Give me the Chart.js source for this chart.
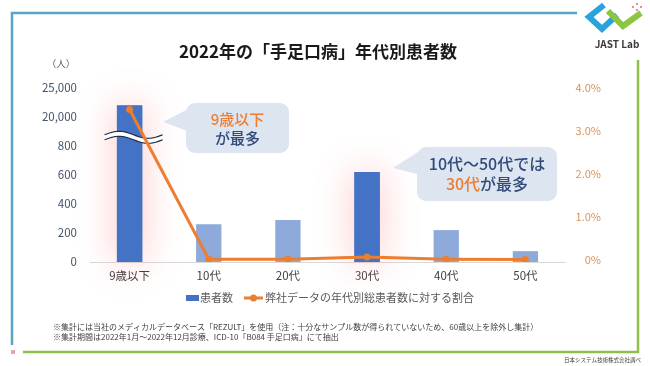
<!DOCTYPE html>
<html lang="ja">
<head>
<meta charset="utf-8">
<script src="https://cdn.jsdelivr.net/npm/chart.js@4.4.1/dist/chart.umd.min.js"></script>
<style>
  html, body { margin: 0; padding: 0; background: #fff; }
  #wrap { width: 650px; height: 366px; }
</style>
</head>
<body>
<div id="wrap"><canvas id="chart" width="650" height="366"></canvas></div>
<script>
(function () {
  "use strict";

  const FONT = '"Noto Sans CJK JP", "Noto Sans", sans-serif';
  const NAVY = "#2f4b7c";
  const ORANGE = "#ed7d31";
  const BAR_STRONG = "#4472c4";
  const BAR_LIGHT = "#8eaadb";
  const BUBBLE_BG = "#dde5f0";

  const TITLE = "2022年の「手足口病」年代別患者数";
  const AGE_GROUPS = ["9歳以下", "10代", "20代", "30代", "40代", "50代"];
  const PATIENTS = [22000, 260, 290, 620, 220, 75];
  const SHARE_PCT = [3.5, 0.02, 0.02, 0.07, 0.02, 0.01];
  const HIGHLIGHT = [true, false, false, true, false, false];
  const LEFT_TICK_VALUES = [0, 200, 400, 600, 800, 20000, 25000];
  const LEFT_TICK_LABELS = ["0", "200", "400", "600", "800", "20,000", "25,000"];
  const RIGHT_TICK_VALUES = [0, 1, 2, 3, 4];
  const RIGHT_TICK_LABELS = ["0%", "1.0%", "2.0%", "3.0%", "4.0%"];
  const SERIES_LABELS = ["患者数", "弊社データの年代別総患者数に対する割合"];
  const FOOTNOTES = [
    "※集計には当社のメディカルデータベース「REZULT」を使用（注：十分なサンプル数が得られていないため、60歳以上を除外し集計）",
    "※集計期間は2022年1月～2022年12月診療、ICD-10「B084 手足口病」にて抽出",
  ];
  const CREDIT = "日本システム技術株式会社調べ";
  const CALLOUT_1 = [
    [{ t: "9歳以下", c: ORANGE }],
    [{ t: "が最多", c: NAVY }],
  ];
  const CALLOUT_2 = [
    [{ t: "10代～50代では", c: NAVY }],
    [{ t: "30代", c: ORANGE }, { t: "が最多", c: NAVY }],
  ];

  // broken left axis: 0..800 linear, then 20,000..25,000 squeezed into one step
  const BREAK_LOW = 800;
  const BREAK_HIGH = 20000;
  const LOWER_STEP = 200;
  const UPPER_STEP = 5000;
  function toAxis(v) {
    if (v <= BREAK_LOW) return v;
    return BREAK_LOW + LOWER_STEP + ((v - BREAK_HIGH) * LOWER_STEP) / UPPER_STEP;
  }
  const AXIS_TICKS = LEFT_TICK_VALUES.map(toAxis);

  function drawRichLines(ctx, lines, cx, y0, lh, size) {
    ctx.font = "500 " + size + "px " + FONT;
    ctx.textBaseline = "middle";
    ctx.textAlign = "left";
    lines.forEach((parts, i) => {
      const w = parts.reduce((s, p) => s + ctx.measureText(p.t).width, 0);
      let x = cx - w / 2;
      parts.forEach((p) => {
        ctx.fillStyle = p.c;
        ctx.fillText(p.t, x, y0 + i * lh);
        x += ctx.measureText(p.t).width;
      });
    });
  }

  function drawBubble(ctx, box, tip, baseA, baseB) {
    ctx.save();
    ctx.fillStyle = BUBBLE_BG;
    ctx.beginPath();
    ctx.roundRect(box.x, box.y, box.w, box.h, 9);
    ctx.fill();
    ctx.beginPath();
    ctx.moveTo(baseA[0], baseA[1]);
    ctx.lineTo(tip[0], tip[1]);
    ctx.lineTo(baseB[0], baseB[1]);
    ctx.closePath();
    ctx.fill();
    ctx.restore();
  }

  const glowPlugin = {
    id: "barGlow",
    beforeDatasetDraw(chart, args) {
      if (chart.data.datasets[args.index].type !== "bar") return;
      const ctx = chart.ctx;
      ctx.save();
      args.meta.data.forEach((el, i) => {
        if (!HIGHLIGHT[i]) return;
        const p = el.getProps(["x", "y", "base", "width"], true);
        ctx.fillStyle = BAR_STRONG;
        ctx.shadowColor = "rgba(255, 110, 110, 0.42)";
        ctx.shadowBlur = 36;
        ctx.fillRect(p.x - p.width / 2, p.y, p.width, p.base - p.y);
      });
      ctx.restore();
    },
    afterDatasetDraw(chart, args) {
      if (chart.data.datasets[args.index].type !== "bar") return;
      // wavy break mark across the tall bar
      const ctx = chart.ctx;
      const el = args.meta.data[0];
      const p = el.getProps(["x", "width"], true);
      const yc = chart.scales.y.getPixelForValue(860);
      const x0 = p.x - 25;
      const W = 58;
      const amp = 3.5;
      const gap = 5;
      const curve = (off) => {
        const pts = [];
        for (let t = 0; t <= 40; t++) {
          const x = x0 + (W * t) / 40;
          pts.push([x, yc + off - amp * Math.sin((2 * Math.PI * t) / 40)]);
        }
        return pts;
      };
      const up = curve(-gap / 2);
      const lo = curve(gap / 2);
      ctx.save();
      ctx.beginPath();
      up.forEach((q, i) => (i ? ctx.lineTo(q[0], q[1]) : ctx.moveTo(q[0], q[1])));
      lo.slice().reverse().forEach((q) => ctx.lineTo(q[0], q[1]));
      ctx.closePath();
      ctx.fillStyle = "#ffffff";
      ctx.fill();
      ctx.strokeStyle = "#1f2c48";
      ctx.lineWidth = 1.2;
      [up, lo].forEach((pts) => {
        ctx.beginPath();
        pts.forEach((q, i) => (i ? ctx.lineTo(q[0], q[1]) : ctx.moveTo(q[0], q[1])));
        ctx.stroke();
      });
      ctx.restore();
    },
  };

  const decorPlugin = {
    id: "decor",
    afterDraw(chart) {
      const ctx = chart.ctx;
      ctx.save();

      // frame lines
      ctx.lineWidth = 2.5;
      ctx.strokeStyle = "#5aa5c4";
      ctx.beginPath();
      ctx.moveTo(12, 345);
      ctx.lineTo(12, 13);
      ctx.lineTo(577, 13);
      ctx.stroke();
      ctx.strokeStyle = "#8fbf4a";
      ctx.beginPath();
      ctx.moveTo(23, 352);
      ctx.lineTo(638, 352);
      ctx.lineTo(638, 60);
      ctx.stroke();
      ctx.fillStyle = "#e8a3ad";
      ctx.fillRect(11, 350, 4, 4);

      // logo
      ctx.lineCap = "butt";
      ctx.lineJoin = "miter";
      ctx.lineWidth = 6;
      ctx.strokeStyle = "#2aa3dc";
      ctx.beginPath();
      ctx.moveTo(604, 5);
      ctx.lineTo(589, 17);
      ctx.lineTo(602, 29);
      ctx.lineTo(617, 15);
      ctx.stroke();
      ctx.strokeStyle = "#8cc63e";
      ctx.beginPath();
      ctx.moveTo(608, 11);
      ctx.lineTo(623, 26);
      ctx.lineTo(641, 13);
      ctx.stroke();
      ctx.fillStyle = "#e58b9b";
      [[632, 6], [636, 9], [640, 6], [636, 3]].forEach((d) => ctx.fillRect(d[0], d[1], 2, 2));
      ctx.fillStyle = "#3a3a3a";
      ctx.font = "bold 10px " + FONT;
      ctx.textAlign = "center";
      ctx.textBaseline = "middle";
      ctx.fillText("JAST Lab", 617, 44);

      // title
      ctx.fillStyle = "#1a1a1a";
      ctx.font = "bold 17px " + FONT;
      ctx.fillText(TITLE, 318, 52);

      // unit
      ctx.fillStyle = "#595959";
      ctx.font = "9.5px " + FONT;
      ctx.fillText("（人）", 61, 63);

      // callouts
      drawBubble(ctx, { x: 186, y: 103, w: 103, h: 50 }, [163, 122], [190, 108], [190, 132]);
      drawRichLines(ctx, CALLOUT_1, 237.5, 119, 19, 15);
      drawBubble(ctx, { x: 417, y: 147, w: 140, h: 54 }, [393, 168], [421, 150], [425, 176]);
      drawRichLines(ctx, CALLOUT_2, 487, 164, 20, 16);

      // legend
      const ly = 298;
      const ds = chart.data.datasets;
      ctx.font = "11px " + FONT;
      ctx.textAlign = "left";
      ctx.textBaseline = "middle";
      ctx.fillStyle = BAR_STRONG;
      ctx.fillRect(186, ly - 3, 13, 6);
      ctx.fillStyle = "#595959";
      ctx.fillText(ds[1].label, 200, ly);
      ctx.strokeStyle = ORANGE;
      ctx.lineWidth = 3;
      ctx.beginPath();
      ctx.moveTo(244, ly);
      ctx.lineTo(263, ly);
      ctx.stroke();
      ctx.fillStyle = ORANGE;
      ctx.beginPath();
      ctx.arc(253.5, ly, 3.5, 0, Math.PI * 2);
      ctx.fill();
      ctx.fillStyle = "#595959";
      ctx.fillText(ds[0].label, 265, ly);

      // footnotes
      ctx.fillStyle = "#404040";
      ctx.font = "8px " + FONT;
      FOOTNOTES.forEach((t, i) => ctx.fillText(t, 53, 327 + i * 10));
      ctx.textAlign = "right";
      ctx.font = "5.5px " + FONT;
      ctx.fillText(CREDIT, 641, 360);

      ctx.restore();
    },
  };

  new Chart(document.getElementById("chart"), {
    data: {
      labels: AGE_GROUPS,
      datasets: [
        {
          type: "line",
          label: SERIES_LABELS[1],
          data: SHARE_PCT,
          yAxisID: "y1",
          borderColor: ORANGE,
          backgroundColor: ORANGE,
          borderWidth: 3,
          pointRadius: 3.5,
          pointBorderWidth: 0,
          pointBackgroundColor: ORANGE,
          tension: 0,
          order: 0,
        },
        {
          type: "bar",
          label: SERIES_LABELS[0],
          data: PATIENTS.map(toAxis),
          yAxisID: "y",
          backgroundColor: HIGHLIGHT.map((h) => (h ? BAR_STRONG : BAR_LIGHT)),
          barPercentage: 0.32,
          categoryPercentage: 1,
          order: 1,
        },
      ],
    },
    options: {
      responsive: false,
      maintainAspectRatio: false,
      animation: false,
      events: [],
      layout: { padding: { left: 20, right: 49, top: 88, bottom: 74 } },
      plugins: {
        legend: { display: false },
        tooltip: { enabled: false },
        title: { display: false },
      },
      scales: {
        x: {
          grid: { display: false, drawTicks: false },
          border: { display: true, color: "#d9d9d9", width: 1 },
          ticks: { color: "#404040", font: { family: FONT, size: 11.5 }, padding: 7 },
          afterFit(s) { s.height = 30; },
        },
        y: {
          position: "left",
          min: 0,
          max: AXIS_TICKS[AXIS_TICKS.length - 1],
          grid: { display: false, drawTicks: false },
          border: { display: false },
          afterBuildTicks(s) { s.ticks = AXIS_TICKS.map((v) => ({ value: v })); },
          ticks: {
            color: "#44546a",
            font: { family: FONT, size: 11.5 },
            padding: 13,
            callback: (v) => LEFT_TICK_LABELS[AXIS_TICKS.indexOf(v)],
          },
          afterFit(s) { s.width = 70; },
        },
        y1: {
          position: "right",
          min: -0.0465,
          max: 4,
          grid: { display: false, drawTicks: false },
          border: { display: false },
          afterBuildTicks(s) { s.ticks = RIGHT_TICK_VALUES.map((v) => ({ value: v })); },
          ticks: {
            color: "#d8925a",
            font: { family: FONT, size: 11 },
            crossAlign: "far",
            callback: (v) => RIGHT_TICK_LABELS[RIGHT_TICK_VALUES.indexOf(v)],
          },
          afterFit(s) { s.width = 36; },
        },
      },
    },
    plugins: [glowPlugin, decorPlugin],
  });
})();
</script>
</body>
</html>
